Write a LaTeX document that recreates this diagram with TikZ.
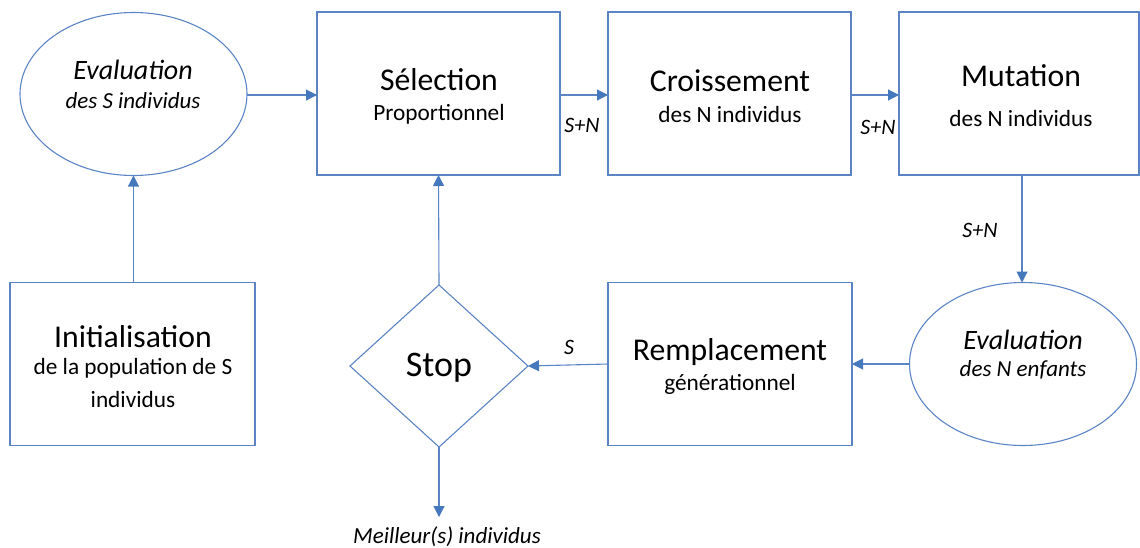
\documentclass[tikz,border=0pt]{standalone}
\usepackage{fontspec}
\setmainfont{Carlito}
\usetikzlibrary{shapes.geometric,arrows.meta}
\definecolor{edge}{RGB}{91,132,196}
\definecolor{tipc}{RGB}{70,120,190}
\begin{document}
\begin{tikzpicture}[x=1pt,y=-1pt,
  shape frame/.style={draw=edge, line width=1.1pt, inner sep=0pt, outer sep=0pt},
  stepbox/.style={shape frame, rectangle, minimum width=243pt, minimum height=163pt},
  evalshape/.style={shape frame, ellipse, minimum width=227pt, minimum height=163pt},
  decision/.style={shape frame, diamond, minimum width=178pt, minimum height=162pt},
  flow/.style={draw=edge, line width=1.1pt, -{Triangle[length=11pt,width=11pt,color=tipc]}},
  line/.style={draw=edge, line width=1.1pt},
  big/.style={font=\fontsize{31.7}{36}\selectfont, inner sep=0pt},
  small/.style={font=\fontsize{23.3}{27}\selectfont, inner sep=0pt},
  bigit/.style={font=\fontsize{28}{32}\selectfont\itshape, inner sep=0pt},
  smallit/.style={font=\fontsize{23}{27}\selectfont\itshape, inner sep=0pt},
  flowlabel/.style={font=\fontsize{22}{26}\selectfont\itshape, inner sep=0pt}]
\useasboundingbox (0,0) rectangle (1140,547);

% shapes
\node[evalshape] (evalS) at (133.5,94) {};
\node[stepbox] (sel) at (438.5,93.5) {};
\node[stepbox] (cross) at (729.5,93.5) {};
\node[stepbox, minimum width=240pt] (mut) at (1019,93.5) {};
\node[evalshape] (evalN) at (1023,364) {};
\node[stepbox, minimum width=244pt] (remp) at (730,364) {};
\node[decision] (stop) at (439,366) {};
\node[stepbox, minimum width=245pt] (init) at (132.5,364) {};
\coordinate (best) at (439,517);

% texts
\node[bigit] at (133,70) {Evaluation};
\node[smallit] at (133,101) {des S individus};
\node[big] at (439,80) {Sélection};
\node[small] at (439,114) {Proportionnel};
\node[big] at (730,81) {Croissement};
\node[small] at (730,114) {des N individus};
\node[big] at (1021,76) {Mutation};
\node[small] at (1021,118) {des N individus};
\node[bigit] at (1023,340) {Evaluation};
\node[smallit] at (1023,370) {des N enfants};
\node[big] at (730,352) {Remplacement};
\node[small] at (730,384) {générationnel};
\node[big] at (133,337) {Initialisation};
\node[small] at (133,368) {de la population de S};
\node[small] at (133,399) {individus};
\node[font=\fontsize{36}{40}\selectfont, inner sep=0pt] at (439,368) {Stop};

% connectors
\draw[flow] (evalS.east |- 0,95) -- (sel.west |- 0,95);
\draw[flow] (sel.east |- 0,95) -- (cross.west |- 0,95);
\draw[flow] (cross.east |- 0,95) -- (mut.west |- 0,95);
\draw[flow] (mut.south -| 1022,0) -- (evalN.north -| 1022,0);
\draw[flow] (evalN.west) -- (remp.east);
\draw[flow] (remp.west) -- (stop.east);
\draw[flow] (stop.north) -- (sel.south);
\draw[flow] (init.north -| evalS.south) -- (evalS.south);
\draw[flow] (stop.south) -- (best);

% flow labels
\node[flowlabel] at (582,125) {S+N};
\node[flowlabel] at (878,127) {S+N};
\node[flowlabel] at (980,230) {S+N};
\node[flowlabel] at (569,347) {S};
\node[smallit, anchor=north] at (447,526) {Meilleur(s) individus};
\end{tikzpicture}
\end{document}
